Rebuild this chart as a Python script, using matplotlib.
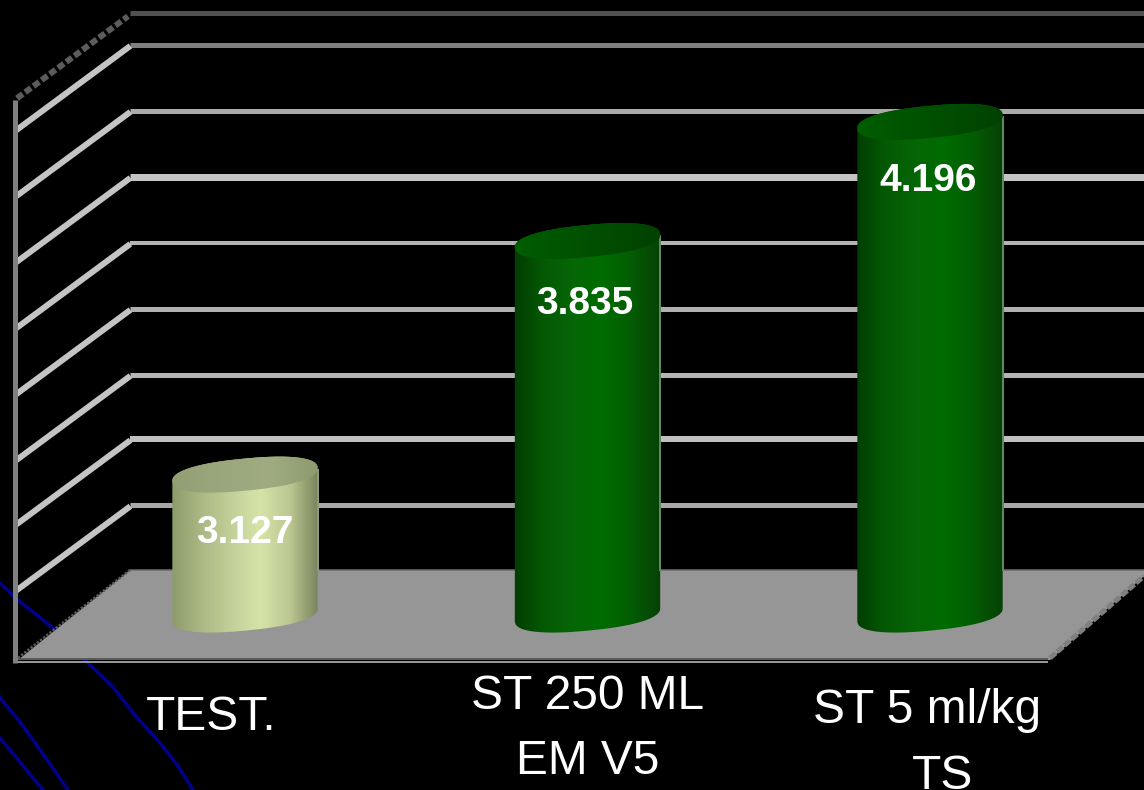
import numpy as np
import matplotlib
matplotlib.use('Agg')
import matplotlib.pyplot as plt
from matplotlib.colors import LinearSegmentedColormap
from matplotlib.patches import Polygon

# values
categories = ["TEST.", "ST 250 ML\nEM V5", "ST 5 ml/kg\nTS"]
values = [3.127, 3.835, 4.196]
grid_levels = [3.035, 3.235, 3.43, 3.63, 3.83, 4.03, 4.23, 4.43, 4.525]
base_value = 2.703
floor_value = 2.838

# look of each grid line, same order as grid_levels
grid_colors = ['#a8a8a8', '#c0c0c0', '#b4b4b4', '#b0b0b0', '#b4b4b4', '#c4c4c4', '#aaaaaa', '#808080', '#505050']
grid_widths = [5, 6, 5, 5, 4, 7, 5, 5, 5]

body_colors = [
    ['#8c9a6a', '#abb884', '#c2cf98', '#d6e3a8', '#bcc792', '#75805a'],
    ['#023c02', '#045a04', '#066606', '#006c00', '#035c03', '#063f06'],
    ['#023c02', '#045a04', '#066606', '#006c00', '#035c03', '#063f06'],
]
top_colors = [
    ['#929e73', '#9aa67c', '#a0ab82', '#8d9a6c'],
    ['#005e00', '#005400', '#004c00', '#004000'],
    ['#005e00', '#005400', '#004c00', '#004000'],
]
edge_colors = ['#8f9a78', '#5f8a5f', '#5f8a5f']
label_offset = [58, 63, 59]
label_dx = [0, -3, -2]

plt.rcParams['font.family'] = ['Liberation Sans', 'DejaVu Sans']

fig = plt.figure(figsize=(11.44, 7.90), dpi=100, facecolor='black')
ax = fig.add_axes([0, 0, 1, 1])
ax.set_facecolor('black')
ax.axis('off')

# scales: 342.5 px between categories, 330 px per unit
PX_X = 342.5
PX_Y = 330.0
ax.set_xlim(-245 / PX_X, (1144 - 245) / PX_X)
ax.set_ylim(3.835 - 549 / PX_Y, 3.835 + 241 / PX_Y)


def xp(px):
    return (np.asarray(px, dtype=float) - 245) / PX_X


def yp(py):
    return 3.835 + (241 - np.asarray(py, dtype=float)) / PX_Y


def lw(px):
    return px * 72 / 100


# blue background curves
blue = '#00008b'
ax.plot(xp([0, 18, 53, 88, 113, 133, 160, 178, 193]), yp([583, 600, 628, 663, 687, 713, 743, 766, 790]), color=blue, lw=lw(3.5), zorder=1)
ax.plot(xp([0, 20, 33, 50, 68]), yp([698, 722, 740, 764, 790]), color=blue, lw=lw(3.5), zorder=1)
ax.plot(xp([0, 20, 43]), yp([738, 762, 790]), color=blue, lw=lw(3.5), zorder=1)

# floor
ax.add_patch(Polygon(np.column_stack([xp([130, 1144, 1144, 1050, 18]), [floor_value, floor_value, yp(576), yp(660), yp(660)]]),
                     closed=True, fc='#969696', ec='none', zorder=2))
ax.plot(xp([130, 1144]), [floor_value, floor_value], color='#6e6e6e', lw=lw(1.5), zorder=3)
ax.plot(xp([15, 1047]), yp([659, 659]), color='#5a5a5a', lw=lw(2), zorder=3)
ax.plot(xp([15, 1047]), yp([661.5, 661.5]), color='#969696', lw=lw(2), zorder=3)

# side wall and grid
ax.plot(xp([15, 15]), yp([100, 663]), color='#808080', lw=lw(5), zorder=3, solid_capstyle='butt')
ax.plot(xp([18, 130]), [floor_value - 88 / PX_Y, floor_value], color='#5a5a5a', lw=lw(2.5), ls=(0, (1, 0.6)), zorder=3)
ax.plot(xp([1050, 1144]), yp([658, 576]), color='#808080', lw=lw(5), ls=(0, (1.5, 0.4)), zorder=3)
for level, col, wid in zip(grid_levels, grid_colors, grid_widths):
    ax.hlines(level, xp(130), xp(1144), color=col, lw=lw(wid), zorder=1.5)
    ls = (0, (1.2, 0.5)) if level == grid_levels[-1] else '-'
    ax.plot(xp([17, 128]), [level - 85 / PX_Y, level - 3 / PX_Y], color='#c4c4c4' if ls == '-' else '#5c5c5c',
            lw=lw(6), ls=ls, zorder=1.5)


def ellipse(cx, cy, t):
    # tilted, slightly squared ellipse, rises to the right
    a, b, th = 73.0, 16.0, np.radians(5.5)
    c = np.sign(np.cos(t)) * np.abs(np.cos(t)) ** 0.85
    s = np.sign(np.sin(t)) * np.abs(np.sin(t)) ** 0.85
    dx = a * c * np.cos(th) - b * s * np.sin(th)
    dy = a * c * np.sin(th) + b * s * np.cos(th)
    return cx + dx / PX_X, cy + dy / PX_Y


def shaded(poly, cols, x0, x1, y0, y1, z):
    patch = Polygon(poly, closed=True, fc='none', ec='none', transform=ax.transData)
    ax.add_patch(patch)
    cmap = LinearSegmentedColormap.from_list('c', cols)
    im = ax.imshow(np.linspace(0, 1, 256)[None, :], cmap=cmap, extent=[x0, x1, y0, y1], aspect='auto', zorder=z)
    im.set_clip_path(patch)


# cylinders
for i, v in enumerate(values):
    lower = np.linspace(np.pi, 2 * np.pi, 80)
    upper = np.linspace(0, np.pi, 80)
    bx, by = ellipse(i, base_value, lower)
    tx, ty = ellipse(i, v, upper)
    body = np.column_stack([np.r_[bx, tx], np.r_[by, ty]])
    shaded(body, body_colors[i], i - 74 / PX_X, i + 74 / PX_X, base_value - 30 / PX_Y, v + 30 / PX_Y, 4)
    # light sliver down the right side, above the floor only
    ax.plot([i + 72.5 / PX_X] * 2, [floor_value, v + 5 / PX_Y], color=edge_colors[i], lw=lw(2), zorder=4.5)
    t = np.linspace(0, 2 * np.pi, 160)
    ex, ey = ellipse(i, v, t)
    shaded(np.column_stack([ex, ey]), top_colors[i], i - 74 / PX_X, i + 74 / PX_X, v - 30 / PX_Y, v + 30 / PX_Y, 5)
    ax.text(i + label_dx[i] / PX_X, v - label_offset[i] / PX_Y, f'{v:.3f}', color='white', fontsize=28,
            fontweight='bold', ha='center', va='center', zorder=6)

ax.set_xlim(-245 / PX_X, (1144 - 245) / PX_X)
ax.set_ylim(3.835 - 549 / PX_Y, 3.835 + 241 / PX_Y)

# category labels, each line on its own, y is the baseline
label_x = [[211], [588, 588], [927, 943]]
label_y = [[730], [709, 774], [723, 789]]
for name, xs, ys in zip(categories, label_x, label_y):
    for line, x, y in zip(name.split('\n'), xs, ys):
        ax.text(xp(x), yp(y), line, color='white', fontsize=34.5, ha='center', va='baseline', zorder=6)

fig.savefig('out.png', dpi=100, facecolor='black')
